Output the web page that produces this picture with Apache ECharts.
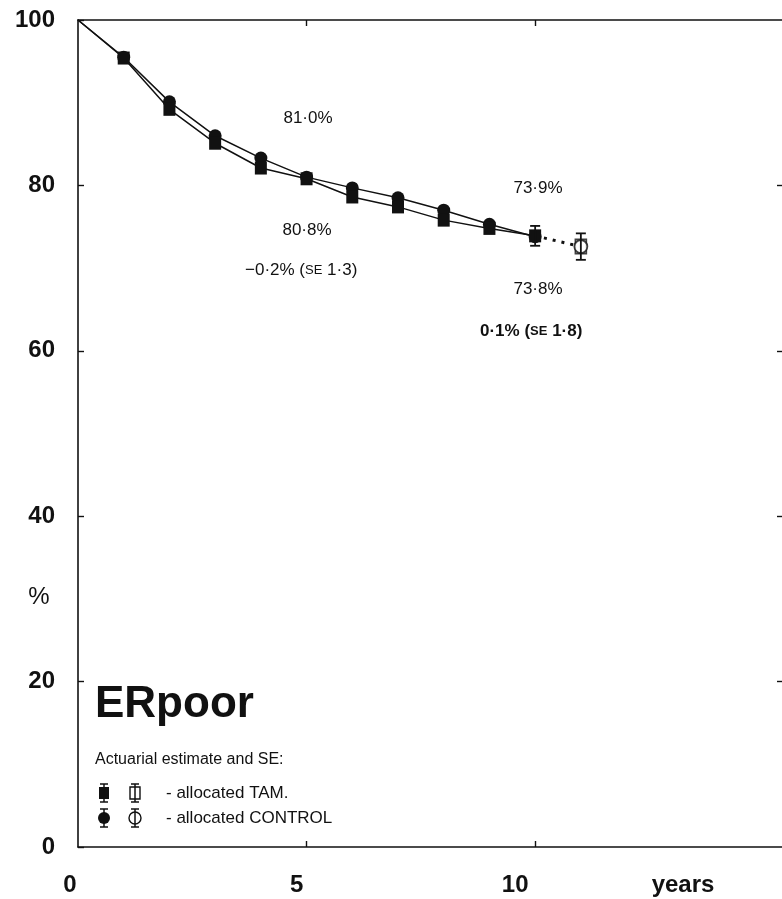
<!DOCTYPE html>
<html>
<head>
<meta charset="utf-8">
<script src="https://cdn.jsdelivr.net/npm/echarts@6/dist/echarts.min.js"></script>
<style>
html,body{margin:0;padding:0;background:#fff;overflow:hidden;}
#c{width:782px;height:899px;}
</style>
</head>
<body>
<div id="c"></div>
<script>
// ---- data ----
const years = [0, 1, 2, 3, 4, 5, 6, 7, 8, 9, 10];
const tam = [100, 95.4, 89.2, 85.1, 82.1, 80.8, 78.6, 77.4, 75.8, 74.8, 73.9];
const control = [100, 95.5, 90.1, 86.0, 83.3, 81.0, 79.7, 78.5, 77.0, 75.3, 73.8];
const extYears = [11];
const tamExt = [72.6];
const controlExt = [72.6];
const seYears = [10, 11];
const seValues = [1.2, 1.6];
const xTickLabels = [0, 5, 10];
const yTickLabels = [0, 20, 40, 60, 80, 100];

const FONT = '"Liberation Sans", Arial, Helvetica, sans-serif';
const INK = '#111';

function valueAt(y) {
  const i = years.indexOf(y);
  if (i >= 0) return tam[i];
  return tamExt[extYears.indexOf(y)];
}

const mkData = (vals) => years.map((y, i) => i === 0 ? { value: [y, vals[i]], symbol: 'none' } : [y, vals[i]]);
const errData = seYears.map((y, i) => [y, valueAt(y) - seValues[i], valueAt(y) + seValues[i]]);
const dottedData = [[years[years.length - 1], tam[tam.length - 1]], [extYears[0], tamExt[0]]];

const chart = echarts.init(document.getElementById('c'), null, { renderer: 'canvas' });

const axisLineStyle = { color: INK, width: 1.6 };

const option = {
  animation: false,
  backgroundColor: '#fff',
  grid: { left: 78, right: -4, top: 20, bottom: 52, containLabel: false },
  xAxis: [
    {
      type: 'value', min: 0, max: 15.4, position: 'bottom',
      splitLine: { show: false },
      axisLine: { show: true, onZero: false, lineStyle: axisLineStyle },
      axisTick: { show: true, inside: true, length: 6, customValues: [5, 10], lineStyle: { color: INK, width: 1.4 } },
      axisLabel: {
        show: true, customValues: xTickLabels, margin: 26,
        fontFamily: FONT, fontSize: 24, fontWeight: 'bold', color: INK,
        formatter: (v) => v === 0 ? '{a|0}' : (v === 5 ? '{b|5}' : '{c|10}'),
        rich: {
          a: { fontFamily: FONT, fontSize: 24, fontWeight: 'bold', color: INK, padding: [0, 16, 0, 0] },
          b: { fontFamily: FONT, fontSize: 24, fontWeight: 'bold', color: INK, padding: [0, 20, 0, 0] },
          c: { fontFamily: FONT, fontSize: 24, fontWeight: 'bold', color: INK, padding: [0, 40, 0, 0] }
        }
      }
    },
    {
      type: 'value', min: 0, max: 15.4, position: 'top',
      splitLine: { show: false },
      axisLine: { show: true, onZero: false, lineStyle: axisLineStyle },
      axisTick: { show: true, inside: true, length: 6, customValues: [5, 10], lineStyle: { color: INK, width: 1.4 } },
      axisLabel: { show: false }
    }
  ],
  yAxis: [
    {
      type: 'value', min: 0, max: 100, interval: 20, position: 'left',
      splitLine: { show: false },
      axisLine: { show: true, onZero: false, lineStyle: axisLineStyle },
      axisTick: { show: true, inside: true, length: 6, lineStyle: { color: INK, width: 1.4 } },
      axisLabel: {
        show: true, margin: 23, fontFamily: FONT, fontSize: 24, fontWeight: 'bold', color: INK,
        formatter: (v) => yTickLabels.indexOf(v) >= 0 ? String(v) : ''
      }
    },
    {
      type: 'value', min: 0, max: 100, interval: 20, position: 'right',
      splitLine: { show: false },
      axisLine: { show: false, onZero: false },
      axisTick: { show: true, inside: true, length: 5, customValues: [20, 40, 60, 80], lineStyle: { color: INK, width: 1.4 } },
      axisLabel: { show: false }
    }
  ],
  series: [
    {
      name: 'CONTROL', type: 'line', data: mkData(control),
      symbol: 'circle', symbolSize: 13, showAllSymbol: true,
      lineStyle: { color: INK, width: 1.5 },
      itemStyle: { color: INK, borderWidth: 0 },
      z: 3
    },
    {
      name: 'TAM', type: 'line', data: mkData(tam),
      symbol: 'rect', symbolSize: [12, 13], showAllSymbol: true,
      lineStyle: { color: INK, width: 1.5 },
      itemStyle: { color: INK, borderWidth: 0 },
      z: 4
    },
    {
      name: 'ext', type: 'line', data: dottedData, symbol: 'none',
      lineStyle: { color: INK, width: 3, type: [3, 6], cap: 'butt' },
      z: 2
    },
    {
      name: 'TAM ext', type: 'scatter', data: extYears.map((y, i) => [y, tamExt[i]]),
      symbol: 'rect', symbolSize: [11, 14],
      itemStyle: { color: '#fff', borderColor: INK, borderWidth: 1.8 },
      z: 5
    },
    {
      name: 'CONTROL ext', type: 'scatter', data: extYears.map((y, i) => [y, controlExt[i]]),
      symbol: 'circle', symbolSize: 13,
      itemStyle: { color: '#fff', borderColor: INK, borderWidth: 1.8 },
      z: 5
    },
    {
      name: 'SE', type: 'custom', data: errData, z: 6,
      renderItem: function (params, api) {
        const x = api.value(0);
        const lo = api.coord([x, api.value(1)]);
        const hi = api.coord([x, api.value(2)]);
        const w = 5;
        const st = { stroke: INK, lineWidth: 1.8 };
        return {
          type: 'group',
          children: [
            { type: 'line', shape: { x1: lo[0], y1: lo[1], x2: hi[0], y2: hi[1] }, style: st },
            { type: 'line', shape: { x1: lo[0] - w, y1: lo[1], x2: lo[0] + w, y2: lo[1] }, style: st },
            { type: 'line', shape: { x1: hi[0] - w, y1: hi[1], x2: hi[0] + w, y2: hi[1] }, style: st }
          ]
        };
      }
    }
  ],
  graphic: []
};

chart.setOption(option);

// annotation texts and legend
const txt = (x, y, text, size, opts) => ({
  type: 'text', x: x, y: y, silent: true,
  style: Object.assign({ text: text, fontFamily: FONT, fontSize: size, fill: INK, align: 'center', verticalAlign: 'middle' }, opts || {})
});

const richStyle = (weight) => ({
  n: { fontFamily: FONT, fontSize: 17, fontWeight: weight, fill: INK },
  s: { fontFamily: FONT, fontSize: 13, fontWeight: weight, fill: INK }
});

const bar = (cx, cy, half) => ([
  { type: 'line', shape: { x1: cx, y1: cy - half, x2: cx, y2: cy + half }, style: { stroke: INK, lineWidth: 1.5 }, z: 10 },
  { type: 'line', shape: { x1: cx - 4, y1: cy - half, x2: cx + 4, y2: cy - half }, style: { stroke: INK, lineWidth: 1.5 }, z: 10 },
  { type: 'line', shape: { x1: cx - 4, y1: cy + half, x2: cx + 4, y2: cy + half }, style: { stroke: INK, lineWidth: 1.5 }, z: 10 }
]);

const graphics = [
  txt(308, 118, '81·0%', 17),
  txt(307, 230, '80·8%', 17),
  { type: 'text', x: 245, y: 270, silent: true,
    style: { text: '{n|−0·2% (}{s|SE}{n| 1·3)}', rich: richStyle('normal'), align: 'left', verticalAlign: 'middle' } },
  txt(538, 188, '73·9%', 17),
  txt(538, 289, '73·8%', 17),
  { type: 'text', x: 480, y: 331, silent: true,
    style: { text: '{n|0·1% (}{s|SE}{n| 1·8)}', rich: richStyle('bold'), align: 'left', verticalAlign: 'middle' } },
  txt(95, 705, 'ERpoor', 44, { align: 'left', fontWeight: 'bold' }),
  txt(95, 760, 'Actuarial estimate and SE:', 16, { align: 'left' }),
  txt(166, 793, '- allocated TAM.', 17, { align: 'left' }),
  txt(166, 818, '- allocated CONTROL', 17, { align: 'left' }),
  txt(39, 597, '%', 24, {}),
  txt(683, 885, 'years', 24, { fontWeight: 'bold' }),
  // legend icons
  { type: 'rect', shape: { x: 99, y: 787, width: 10, height: 12 }, style: { fill: INK }, z: 9 },
  ...bar(104, 793, 9),
  { type: 'rect', shape: { x: 130, y: 787, width: 10, height: 12 }, style: { fill: '#fff', stroke: INK, lineWidth: 1.4 }, z: 9 },
  ...bar(135, 793, 9),
  { type: 'circle', shape: { cx: 104, cy: 818, r: 6 }, style: { fill: INK }, z: 9 },
  ...bar(104, 818, 9),
  { type: 'circle', shape: { cx: 135, cy: 818, r: 6 }, style: { fill: '#fff', stroke: INK, lineWidth: 1.4 }, z: 9 },
  ...bar(135, 818, 9)
];

chart.setOption({ graphic: graphics });
</script>
</body>
</html>
